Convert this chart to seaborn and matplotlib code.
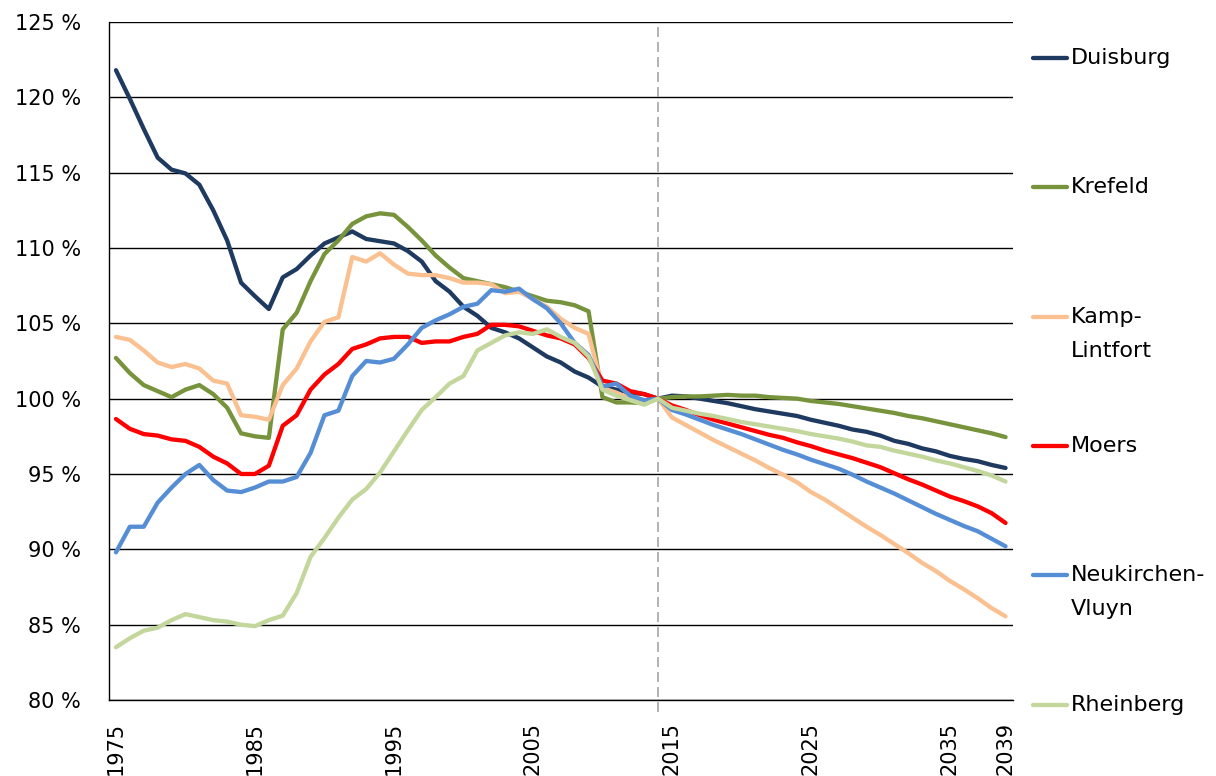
import numpy as np
import pandas as pd
import matplotlib
matplotlib.use("Agg")
import matplotlib.pyplot as plt
from matplotlib.lines import Line2D
import seaborn as sns

years = list(range(1975, 2040))

duisburg = [121.8, 119.9, 117.9, 116.0, 115.2, 114.95, 114.2, 112.5, 110.5, 107.7,
            106.8, 105.95, 108.05, 108.6, 109.5, 110.3, 110.7, 111.1, 110.6, 110.45,
            110.3, 109.8, 109.1, 107.8, 107.1, 106.1, 105.5, 104.7, 104.4, 104.0,
            103.4, 102.8, 102.4, 101.8, 101.4, 100.8, 100.6, 100.4, 100.3, 100.0,
            100.2, 100.15, 100.0, 99.85, 99.7, 99.5, 99.3, 99.15, 99.0, 98.85,
            98.6, 98.4, 98.2, 97.95, 97.8, 97.55, 97.2, 97.0, 96.7, 96.5,
            96.2, 96.0, 95.85, 95.6, 95.4]

krefeld = [102.7, 101.7, 100.9, 100.5, 100.1, 100.6, 100.9, 100.3, 99.4, 97.7,
           97.5, 97.4, 104.6, 105.7, 107.8, 109.6, 110.5, 111.6, 112.1, 112.3,
           112.2, 111.4, 110.5, 109.5, 108.7, 108.0, 107.8, 107.6, 107.4, 107.1,
           106.8, 106.5, 106.4, 106.2, 105.8, 100.1, 99.75, 99.75, 99.7, 100.0,
           100.1, 100.15, 100.15, 100.2, 100.25, 100.2, 100.2, 100.1, 100.05, 100.0,
           99.85, 99.75, 99.65, 99.5, 99.35, 99.2, 99.05, 98.85, 98.7, 98.5,
           98.3, 98.1, 97.9, 97.7, 97.45]

kamp_lintfort = [104.1, 103.9, 103.2, 102.4, 102.1, 102.3, 102.0, 101.2, 101.0, 98.9,
                 98.8, 98.6, 100.9, 102.0, 103.8, 105.1, 105.4, 109.4, 109.1, 109.65,
                 108.9, 108.3, 108.2, 108.2, 108.0, 107.7, 107.7, 107.6, 107.0, 107.1,
                 106.6, 106.1, 105.3, 104.7, 104.3, 100.7, 100.4, 100.0, 99.7, 100.0,
                 98.75, 98.25, 97.75, 97.25, 96.8, 96.35, 95.9, 95.4, 94.95, 94.45,
                 93.8, 93.3, 92.7, 92.1, 91.5, 90.95, 90.35, 89.75, 89.1, 88.55,
                 87.9, 87.35, 86.75, 86.1, 85.55]

moers = [98.65, 98.0, 97.65, 97.55, 97.3, 97.2, 96.8, 96.15, 95.7, 95.0,
         95.0, 95.55, 98.2, 98.9, 100.6, 101.6, 102.3, 103.3, 103.6, 104.0,
         104.1, 104.1, 103.7, 103.8, 103.8, 104.1, 104.3, 104.9, 104.9, 104.8,
         104.5, 104.2, 104.0, 103.6, 102.7, 101.2, 101.0, 100.5, 100.3, 100.0,
         99.55, 99.25, 98.9, 98.6, 98.35, 98.1, 97.85, 97.6, 97.4, 97.1,
         96.85, 96.55, 96.3, 96.05, 95.75, 95.45, 95.05, 94.65, 94.3, 93.9,
         93.5, 93.2, 92.85, 92.4, 91.75]

neukirchen_vluyn = [89.8, 91.5, 91.5, 93.1, 94.1, 95.0, 95.6, 94.6, 93.9, 93.8,
                    94.1, 94.5, 94.5, 94.8, 96.4, 98.9, 99.2, 101.5, 102.5, 102.4,
                    102.65, 103.6, 104.7, 105.2, 105.6, 106.1, 106.3, 107.2, 107.1, 107.3,
                    106.6, 106.0, 105.0, 103.7, 102.9, 100.8, 101.0, 100.2, 99.9, 100.0,
                    99.25, 98.95, 98.6, 98.25, 97.95, 97.65, 97.3, 96.95, 96.6, 96.3,
                    95.95, 95.65, 95.35, 94.95, 94.5, 94.1, 93.7, 93.25, 92.8, 92.35,
                    91.95, 91.55, 91.2, 90.7, 90.2]

rheinberg = [83.5, 84.1, 84.6, 84.8, 85.3, 85.7, 85.5, 85.3, 85.2, 85.0,
             84.9, 85.3, 85.6, 87.1, 89.5, 90.75, 92.1, 93.3, 94.0, 95.1,
             96.5, 97.9, 99.25, 100.1, 101.0, 101.5, 103.2, 103.7, 104.2, 104.4,
             104.3, 104.6, 104.1, 103.7, 102.8, 100.6, 100.2, 99.9, 99.6, 100.0,
             99.4, 99.2, 99.0, 98.85, 98.65, 98.45, 98.3, 98.15, 98.0, 97.85,
             97.65, 97.5, 97.35, 97.15, 96.9, 96.8, 96.55, 96.35, 96.15, 95.9,
             95.7, 95.45, 95.2, 94.9, 94.5]

cities = ["Duisburg", "Krefeld", "Kamp-Lintfort", "Moers", "Neukirchen-Vluyn", "Rheinberg"]
legend_labels = ["Duisburg", "Krefeld", "Kamp-\nLintfort", "Moers", "Neukirchen-\nVluyn", "Rheinberg"]
series = [duisburg, krefeld, kamp_lintfort, moers, neukirchen_vluyn, rheinberg]
colors = ["#1F3A60", "#77933C", "#FAC090", "#FF0000", "#558ED5", "#C3D69B"]
base_year = 2014
xtick_years = [1975, 1985, 1995, 2005, 2015, 2025, 2035, 2039]
ytick_values = list(range(80, 126, 5))

df = pd.DataFrame({
    "Jahr": np.tile(years, len(cities)),
    "Wert": np.concatenate(series),
    "Stadt": np.repeat(cities, len(years)),
})

sns.set_style("white")
plt.rcParams["font.family"] = ["DejaVu Sans"]
plt.rcParams["text.color"] = "black"
plt.rcParams["xtick.color"] = "black"
plt.rcParams["ytick.color"] = "black"

W, H = 1216, 776
fig = plt.figure(figsize=(W / 100, H / 100), dpi=100)
ax = fig.add_axes([109 / W, 1 - 700 / H, (1012.5 - 109) / W, (700 - 22) / H])

sns.lineplot(data=df, x="Jahr", y="Wert", hue="Stadt", hue_order=cities,
             palette=dict(zip(cities, colors)), linewidth=3.1, legend=False,
             ax=ax, sort=False, solid_capstyle="round")

ax.set_xlim(1974.5, 2039.5)
ax.set_ylim(80, 125)
ax.set_xlabel("")
ax.set_ylabel("")

ax.set_yticks(ytick_values)
ax.set_yticklabels([f"{v} %" for v in ytick_values], fontsize=15)
ax.yaxis.grid(True, color="black", linewidth=1.0)
ax.xaxis.grid(False)
ax.set_axisbelow(True)

ax.set_xticks(xtick_years)
ax.set_xticklabels([str(y) for y in xtick_years], rotation=90, fontsize=15)
ax.set_xticks(np.arange(years[0] - 0.5, years[-1] + 1, 1), minor=True)
ax.tick_params(axis="x", which="major", length=0, pad=16, labelcolor="black")
ax.tick_params(axis="x", which="minor", length=5, width=1, direction="out", color="black")
ax.tick_params(axis="y", length=7.2, width=1, direction="out", color="black", pad=13,
               labelcolor="black")

for s in ["top", "right"]:
    ax.spines[s].set_visible(False)
for s in ["left", "bottom"]:
    ax.spines[s].set_color("black")
    ax.spines[s].set_linewidth(1.0)

ax.axvline(base_year, color="#A6A6A6", linestyle=(0, (6, 3)), linewidth=1.2,
           ymin=-0.018, ymax=1, clip_on=False)

# legend at right side
legend_y_px = [58, 187, 317, 446, 575, 705]
for lab, col, ypx in zip(legend_labels, colors, legend_y_px):
    yf = 1 - ypx / H
    fig.add_artist(Line2D([1033 / W, 1067 / W], [yf, yf], transform=fig.transFigure,
                          color=col, linewidth=3.1, solid_capstyle="round"))
    fig.text(1071 / W, yf + 10 / H, lab, fontsize=16, va="top", ha="left",
             linespacing=1.9, color="black")

fig.savefig("out.png", dpi=100)
